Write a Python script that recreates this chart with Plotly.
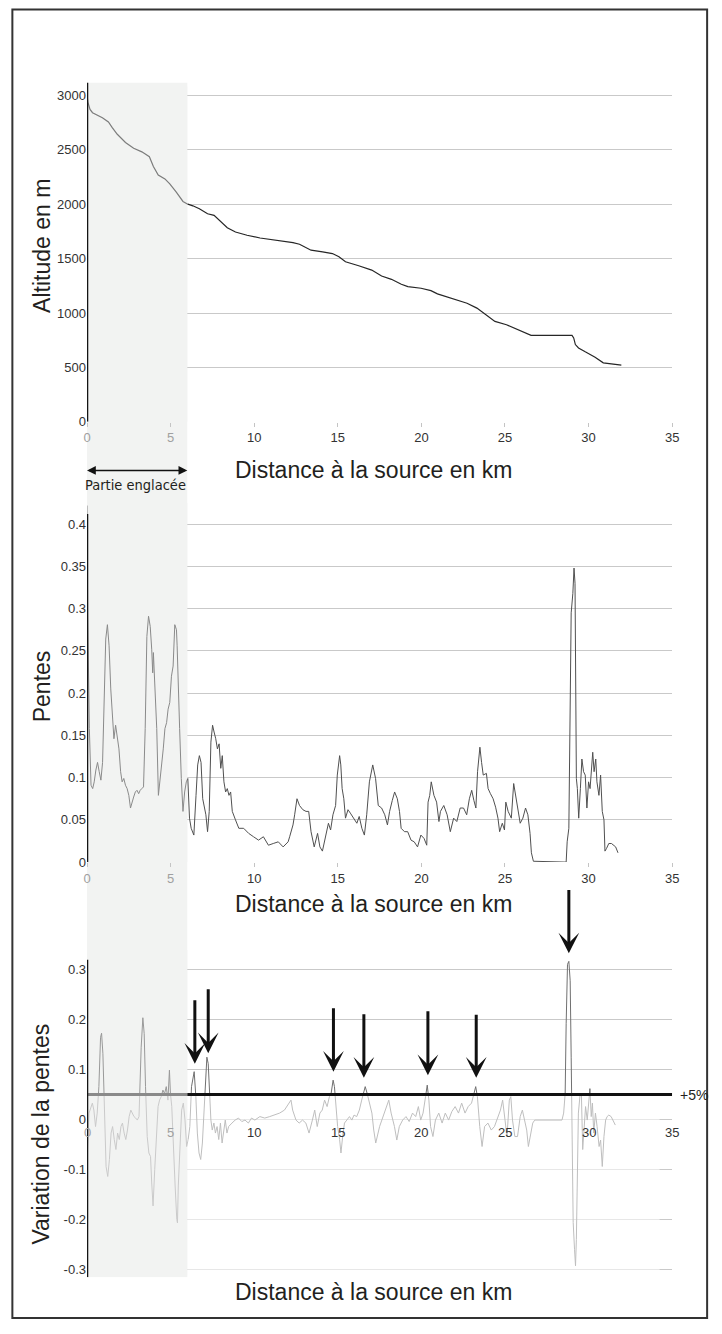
import plotly.graph_objects as go

W, H = 722, 1334

# ---------------- data ----------------
alt_km = [0, 0.05, 0.18, 0.33, 0.92, 1.28, 1.51, 1.81, 2.3, 2.79, 3.28, 3.73, 3.97, 4.26, 4.66,
          4.95, 5.34, 5.74, 6.03, 6.33, 6.72, 7.21, 7.6, 8.0, 8.39, 8.88, 9.57, 10.35, 11.34, 12.32,
          12.71, 13.4, 14.09, 14.68, 15.07, 15.46, 16.25, 17.03, 17.62, 18.21, 18.8, 19.19, 19.98,
          20.57, 20.96, 21.55, 22.14, 22.73, 23.32, 23.71, 24.4, 25.09, 25.87, 26.56, 29.01, 29.11,
          29.21, 29.4, 29.8, 30.39, 30.88, 31.37, 31.96]
altitude = [3010, 2940, 2872, 2842, 2796, 2757, 2705, 2644, 2568, 2516, 2482, 2437, 2348, 2269, 2233,
            2187, 2111, 2026, 2001, 1986, 1959, 1913, 1898, 1837, 1785, 1745, 1715, 1690, 1669, 1648,
            1633, 1578, 1563, 1547, 1517, 1471, 1435, 1395, 1340, 1310, 1264, 1243, 1228, 1206, 1176,
            1145, 1115, 1090, 1045, 999, 923, 892, 841, 795, 795, 771, 710, 679, 643, 594, 542, 533, 521]

pente_km = [0, 0.04, 0.14, 0.24, 0.34, 0.43, 0.53, 0.63, 0.73, 0.83, 0.93, 1.02, 1.12, 1.22, 1.32,
            1.42, 1.51, 1.61, 1.71, 1.81, 1.91, 2.01, 2.1, 2.2, 2.3, 2.4, 2.5, 2.6, 2.69, 2.79, 2.89,
            2.99, 3.09, 3.18, 3.28, 3.38, 3.48, 3.58, 3.68, 3.78, 3.87, 3.93, 3.97, 4.07, 4.17, 4.27,
            4.36, 4.46, 4.56, 4.66, 4.76, 4.85, 4.95, 5.05, 5.15, 5.25, 5.35, 5.39, 5.44, 5.54, 5.64,
            5.74, 5.84, 5.94, 6.03, 6.13, 6.23, 6.39, 6.52, 6.62, 6.72, 6.82, 6.92, 7.02, 7.11, 7.21,
            7.31, 7.41, 7.51, 7.6, 7.7, 7.8, 7.9, 8.0, 8.09, 8.19, 8.29, 8.39, 8.49, 8.59, 8.69, 8.88,
            9.08, 9.37, 9.67, 9.96, 10.26, 10.55, 10.85, 11.14, 11.44, 11.73, 12.03, 12.12,
            12.32, 12.42, 12.56, 12.71, 12.91, 13.1, 13.26, 13.4, 13.59, 13.79, 13.93, 14.08, 14.28,
            14.44, 14.57, 14.71, 14.87, 14.97, 15.11, 15.18, 15.26, 15.36, 15.46, 15.61, 15.75, 15.95,
            16.14, 16.28, 16.44, 16.59, 16.73, 16.89, 17.09, 17.26, 17.42, 17.62, 17.81, 17.97, 18.1,
            18.26, 18.4, 18.56, 18.69, 18.79, 18.99, 19.18, 19.38, 19.57, 19.77, 19.97, 20.16, 20.32,
            20.4, 20.5, 20.59, 20.75, 20.91, 21.05, 21.14, 21.34, 21.54, 21.73, 21.93, 22.12, 22.32,
            22.52, 22.71, 22.87, 23.01, 23.14, 23.26, 23.36, 23.5, 23.6, 23.7, 23.89, 23.99, 24.13,
            24.29, 24.44, 24.58, 24.68, 24.84, 24.97,
            25.05, 25.19, 25.38, 25.52, 25.64, 25.78, 25.91, 26.07, 26.23, 26.37, 26.5, 26.58, 26.7,
            28.66, 28.72, 28.82, 28.88, 28.96, 29.06, 29.13, 29.19, 29.27, 29.33, 29.41, 29.51, 29.6,
            29.7, 29.8, 29.9, 30.0, 30.09, 30.19, 30.25, 30.33, 30.43, 30.5, 30.62, 30.72, 30.82,
            30.92, 30.98, 31.07, 31.21, 31.37, 31.52, 31.62, 31.76]
pente = [0.422, 0.295, 0.158, 0.091, 0.087, 0.095, 0.109, 0.118, 0.107, 0.097, 0.118, 0.177, 0.264,
         0.281, 0.256, 0.205, 0.169, 0.146, 0.162, 0.15, 0.134, 0.107, 0.095, 0.099, 0.091, 0.087,
         0.079, 0.064, 0.069, 0.077, 0.083, 0.085, 0.081, 0.085, 0.087, 0.089, 0.158, 0.267, 0.291,
         0.279, 0.252, 0.224, 0.248, 0.205, 0.158, 0.079, 0.095, 0.118, 0.134, 0.158, 0.165, 0.181,
         0.189, 0.22, 0.232, 0.281, 0.275, 0.256, 0.216, 0.158, 0.099, 0.06, 0.083, 0.095, 0.099,
         0.052, 0.04, 0.032, 0.079, 0.115, 0.126, 0.118, 0.075, 0.064, 0.056, 0.036, 0.06, 0.142,
         0.162, 0.154, 0.146, 0.134, 0.14, 0.111, 0.126, 0.095, 0.083, 0.087, 0.079, 0.083, 0.06,
         0.05, 0.04, 0.04, 0.034, 0.03, 0.026, 0.03, 0.02, 0.022, 0.024, 0.018, 0.024, 0.03,
         0.044, 0.056, 0.075, 0.067, 0.062, 0.06, 0.06, 0.036, 0.018, 0.034, 0.018, 0.013, 0.032,
         0.046, 0.038, 0.056, 0.067, 0.103, 0.126, 0.115, 0.087, 0.075, 0.052, 0.062, 0.058, 0.052,
         0.046, 0.054, 0.04, 0.032, 0.056, 0.095, 0.115, 0.099, 0.067, 0.064, 0.056, 0.044, 0.06,
         0.073, 0.083, 0.075, 0.06, 0.04, 0.036, 0.036, 0.026, 0.024, 0.018, 0.032, 0.028, 0.02,
         0.071, 0.079, 0.095, 0.079, 0.071, 0.048, 0.06, 0.067, 0.056, 0.036, 0.052, 0.048, 0.064,
         0.064, 0.056, 0.075, 0.085, 0.073, 0.064, 0.107, 0.136, 0.118, 0.103, 0.105, 0.087, 0.081,
         0.075, 0.065, 0.052, 0.036, 0.046, 0.038,
         0.071, 0.06, 0.052, 0.093, 0.079, 0.06, 0.046, 0.052, 0.064, 0.056, 0.034, 0.011, 0.001,
         0.0, 0.024, 0.04, 0.197, 0.295, 0.318, 0.348, 0.33, 0.099, 0.087, 0.052, 0.087, 0.122,
         0.107, 0.103, 0.064, 0.095, 0.087, 0.122, 0.13, 0.107, 0.122, 0.095, 0.079, 0.103, 0.06,
         0.05, 0.013, 0.016, 0.022, 0.022, 0.02, 0.018, 0.011]

var_km = [0, 0.02, 0.12, 0.22, 0.32, 0.41, 0.51, 0.61, 0.71, 0.81, 0.87, 0.95, 1.04, 1.14, 1.24,
          1.34, 1.44, 1.53, 1.63, 1.73, 1.83, 1.93, 2.03, 2.12, 2.22, 2.32, 2.42, 2.52, 2.62, 2.71,
          2.81, 2.91, 3.01, 3.11, 3.16, 3.24, 3.34, 3.42, 3.5, 3.6, 3.7, 3.8, 3.87, 3.95, 4.05, 4.15,
          4.25, 4.34, 4.44, 4.54, 4.64, 4.74, 4.84, 4.93, 4.99, 5.07, 5.17, 5.27, 5.37, 5.41, 5.46,
          5.56, 5.66, 5.76, 5.86, 5.96, 6.05, 6.15, 6.25, 6.35, 6.41, 6.51, 6.6, 6.7, 6.8, 6.9, 7.0,
          7.09, 7.17, 7.25, 7.33, 7.41, 7.49, 7.59, 7.68, 7.78, 7.88, 7.98, 8.08, 8.17, 8.27, 8.37,
          8.47, 8.67, 8.86, 9.06, 9.26, 9.45, 9.65, 9.84, 10.04, 10.34, 10.63, 10.93, 11.22, 11.52,
          11.81, 12.11, 12.2, 12.3, 12.5, 12.69, 12.89, 13.09, 13.28, 13.48, 13.62, 13.77, 13.93,
          14.07, 14.21, 14.36, 14.5, 14.6, 14.72, 14.8, 14.9, 14.99, 15.11, 15.19, 15.29, 15.4,
          15.54, 15.7, 15.84, 15.97, 16.13, 16.29, 16.43, 16.56, 16.64, 16.76, 16.92, 17.04, 17.15,
          17.27, 17.5, 17.7, 17.9, 18.05, 18.19, 18.39, 18.53, 18.68, 18.88, 19.08, 19.27, 19.47,
          19.66, 19.82, 19.96, 20.1, 20.25, 20.35, 20.45, 20.55, 20.69, 20.84, 21.04, 21.24, 21.43,
          21.63, 21.82, 22.02, 22.22, 22.41, 22.61, 22.8, 23.0, 23.16, 23.25, 23.35, 23.49, 23.63,
          23.78, 23.98, 24.18, 24.37, 24.57, 24.73, 24.86, 25.0, 25.12, 25.26, 25.35, 25.45, 25.59,
          25.75, 25.91, 26.04, 26.18, 26.3, 26.4, 26.54, 26.66, 26.78, 28.41, 28.51, 28.6, 28.66,
          28.74, 28.82, 28.9, 28.96, 29.02, 29.08, 29.16, 29.22, 29.27, 29.33, 29.39, 29.49, 29.57,
          29.65, 29.73, 29.82, 29.92, 30.02, 30.08, 30.16, 30.23, 30.31, 30.41, 30.51, 30.63, 30.72,
          30.82, 30.92, 31.02, 31.11, 31.21, 31.35, 31.49, 31.6]
variation = [-0.28, -0.067, 0.013, 0.026, 0.033, 0.019, -0.014, 0.013, 0.066, 0.165, 0.173, 0.132,
             -0.001, -0.094, -0.114, -0.08, -0.027, -0.014, -0.04, -0.06, -0.027, -0.04, -0.014,
             -0.007, -0.027, -0.04, -0.021, 0.006, 0.019, 0.013, 0.006, 0.003, -0.001, 0.006, 0.066,
             0.145, 0.204, 0.172, 0.066, -0.034, -0.067, -0.074, -0.127, -0.173, -0.1, -0.04, 0.026,
             0.039, 0.046, 0.059, 0.052, 0.066, 0.039, 0.099, 0.052, 0.026, -0.067, -0.133, -0.2,
             -0.207, -0.133, -0.04, 0.019, 0.033, -0.001, -0.054, -0.04, -0.014, 0.066, 0.092, 0.096,
             0.046, -0.027, -0.067, -0.08, -0.047, 0.019, 0.086, 0.125, 0.112, 0.052, -0.001, -0.021,
             -0.007, -0.027, -0.014, -0.04, -0.007, -0.047, -0.021, -0.001, -0.027, -0.014, -0.007,
             -0.001, 0.003, -0.004, -0.001, -0.007, 0.003, -0.001, 0.006, 0.003, 0.006, 0.009, 0.013,
             0.019, 0.033, 0.039, 0.019, -0.001, -0.007, -0.001, -0.007, -0.027, -0.001, 0.019,
             -0.014, 0.013, 0.019, 0.039, 0.026, 0.046, 0.052, 0.079, 0.066, 0.026, -0.014, -0.04,
             -0.067, -0.034, -0.007, -0.001, 0.006, -0.001, 0.009, 0.006, 0.019, 0.039, 0.059, 0.066,
             0.052, 0.026, 0.013, -0.021, -0.047, -0.014, 0.006, 0.026, 0.039, 0.013, -0.014, -0.041,
             -0.014, -0.001, 0.006, -0.004, 0.013, 0.006, 0.026, -0.001, 0.013, 0.046, 0.069, 0.039,
             -0.014, -0.034, -0.001, 0.013, -0.007, 0.013, -0.001, 0.016, 0.026, 0.013, 0.033, 0.013,
             0.026, 0.033, 0.052, 0.066, 0.046, -0.014, -0.054, -0.014, -0.007, -0.021, -0.014, 0.006,
             0.019, 0.039, -0.007, -0.034, 0.039, 0.046, -0.001, -0.034, -0.034, 0.006, 0.019, -0.007,
             -0.021, -0.054, -0.027, -0.007, -0.001, -0.001, 0.013, 0.052, 0.192, 0.311, 0.317, 0.278,
             0.125, -0.074, -0.206, -0.26, -0.293, -0.24, -0.074, 0.013, 0.049, 0.052, -0.06, -0.021,
             0.026, -0.001, 0.052, 0.062, 0.006, 0.033, -0.027, 0.013, -0.014, -0.054, -0.041, -0.094,
             -0.034, -0.001, 0.006, 0.009, 0.006, -0.004, -0.011]

# peaks flagged by arrows (km, arrow tip value, arrow tail value)
arrow_km = [6.45, 7.25, 14.74, 16.56, 20.39, 23.28, 28.82]
arrow_tip = [0.112, 0.133, 0.096, 0.084, 0.089, 0.084, 0.333]
arrow_top = [0.242, 0.264, 0.226, 0.214, 0.22, 0.213, 0.463]

x_ticks = [0, 5, 10, 15, 20, 25, 30, 35]
alt_ticks = [0, 500, 1000, 1500, 2000, 2500, 3000]
pente_ticks = [0, 0.05, 0.1, 0.15, 0.2, 0.25, 0.3, 0.35, 0.4]
pente_labels = ["0", "0.05", "0.1", "0.15", "0.2", "0.25", "0.3", "0.35", "0.4"]
var_ticks = [-0.3, -0.2, -0.1, 0, 0.1, 0.2, 0.3]
var_labels = ["-0.3", "-0.2", "-0.1", "0", "0.1", "0.2", "0.3"]
glacier_end_km = 6
threshold = 0.05

x_title = "Distance à la source en km"

Y1R = [0, 3120]
Y2R = [0, 0.425]
Y3R = [-0.316, 0.34]
Y3_AXIS_TOP = 0.32

# ---------------- helpers ----------------
def px_x(p):
    return p / W

def px_y(p):
    return 1 - p / H

def split(xs, ys, cut):
    i = next(k for k, v in enumerate(xs) if v >= cut)
    return (xs[:i + 1], ys[:i + 1]), (xs[i:], ys[i:])

FONT = "Liberation Sans, Arial, sans-serif"
TXT = "#231f20"

XDOM = [px_x(84.3), px_x(678.5)]
Y1DOM = [px_y(424.3), px_y(83)]
Y2DOM = [px_y(867.3), px_y(506.05)]
Y3DOM = [px_y(1285), px_y(955.6)]

fig = go.Figure()

(a_in, a_out) = split(alt_km, altitude, glacier_end_km)
fig.add_trace(go.Scatter(x=a_in[0], y=a_in[1], mode="lines", line=dict(color="#7c7c7c", width=1.2),
                         xaxis="x", yaxis="y", hoverinfo="skip"))
fig.add_trace(go.Scatter(x=a_out[0], y=a_out[1], mode="lines", line=dict(color="#262626", width=1.2),
                         xaxis="x", yaxis="y", hoverinfo="skip"))
(p_in, p_out) = split(pente_km, pente, glacier_end_km)
fig.add_trace(go.Scatter(x=p_in[0], y=p_in[1], mode="lines", line=dict(color="#8a8a8a", width=1),
                         xaxis="x2", yaxis="y2", hoverinfo="skip"))
fig.add_trace(go.Scatter(x=p_out[0], y=p_out[1], mode="lines", line=dict(color="#505050", width=1),
                         xaxis="x2", yaxis="y2", hoverinfo="skip"))
(v_in, v_out) = split(var_km, variation, glacier_end_km)
fig.add_trace(go.Scatter(x=v_in[0], y=v_in[1], mode="lines", line=dict(color="#999999", width=1),
                         xaxis="x3", yaxis="y3", hoverinfo="skip"))
fig.add_trace(go.Scatter(x=v_out[0], y=v_out[1], mode="lines", line=dict(color="#707070", width=1),
                         xaxis="x3", yaxis="y3", hoverinfo="skip"))

SHADE = "#f2f3f2"
grey_tick = lambda v: (f'<span style="color:#a0a0a0">{v}</span>' if v <= 5 else str(v))

xcommon = dict(domain=XDOM, range=[0, 35], showgrid=False, zeroline=False, showline=False,
               tickvals=x_ticks, ticktext=[grey_tick(v) for v in x_ticks],
               ticks="outside", ticklen=4, tickcolor="#c4c4c4", tickwidth=1,
               tickfont=dict(family=FONT, size=13, color="#333333"), fixedrange=True)
ycommon = dict(showgrid=True, gridcolor="#c9c9c9", gridwidth=1, zeroline=False, showline=False,
               ticks="", tickfont=dict(family=FONT, size=13, color="#333333"), fixedrange=True)

fig.update_layout(
    width=W, height=H, margin=dict(l=0, r=0, t=0, b=0), autosize=False,
    paper_bgcolor="white", plot_bgcolor="rgba(0,0,0,0)", showlegend=False,
    xaxis=dict(**xcommon, anchor="y"),
    yaxis=dict(**ycommon, domain=Y1DOM, range=Y1R, tickvals=alt_ticks, anchor="x"),
    xaxis2=dict(**xcommon, anchor="y2"),
    yaxis2=dict(**ycommon, domain=Y2DOM, range=Y2R, tickvals=pente_ticks,
                ticktext=pente_labels, anchor="x2"),
    xaxis3=dict(domain=XDOM, range=[0, 35], showgrid=False, zeroline=False, showline=False,
                showticklabels=False, ticks="", anchor="y3", fixedrange=True),
    yaxis3=dict(**ycommon, domain=Y3DOM, range=Y3R, tickvals=var_ticks,
                ticktext=var_labels, anchor="x3"),
)

shapes = []
shapes.append(dict(type="rect", xref="paper", yref="paper", x0=px_x(84.3), x1=px_x(186.1),
                   y0=px_y(1283), y1=px_y(87), fillcolor=SHADE, line=dict(width=0), layer="below"))
for xa, ya, rg in [("x", "y", Y1R), ("x2", "y2", Y2R), ("x3", "y3", Y3R)]:
    shapes.append(dict(type="rect", xref=xa, yref=ya, x0=0, x1=glacier_end_km,
                       y0=rg[0], y1=rg[1], fillcolor=SHADE, line=dict(width=0), layer="between"))
shapes.append(dict(type="rect", xref="x3", yref="y3", x0=0, x1=glacier_end_km, y0=Y3R[0], y1=threshold,
                   fillcolor="rgba(242,243,242,0.55)", line=dict(width=0), layer="above"))
shapes.append(dict(type="rect", xref="x3", yref="y3", x0=glacier_end_km, x1=34.25, y0=Y3R[0], y1=threshold,
                   fillcolor="rgba(255,255,255,0.55)", line=dict(width=0), layer="above"))
shapes.append(dict(type="line", xref="x3", yref="y3", x0=0, x1=glacier_end_km, y0=threshold, y1=threshold,
                   line=dict(color="#8a8a8a", width=3), layer="above"))
shapes.append(dict(type="line", xref="x3", yref="y3", x0=glacier_end_km, x1=35, y0=threshold, y1=threshold,
                   line=dict(color="#111111", width=3), layer="above"))
shapes.append(dict(type="line", xref="x", yref="y", x0=0, x1=0, y0=0, y1=Y1R[1],
                   line=dict(color="#111111", width=2.5), layer="above"))
shapes.append(dict(type="line", xref="x2", yref="y2", x0=0, x1=0, y0=0, y1=0.412,
                   line=dict(color="#111111", width=2.5), layer="above"))
shapes.append(dict(type="line", xref="x3", yref="y3", x0=0, x1=0, y0=Y3R[0], y1=Y3_AXIS_TOP,
                   line=dict(color="#111111", width=2.5), layer="above"))
shapes.append(dict(type="rect", xref="paper", yref="paper", x0=px_x(8.5), x1=px_x(714),
                   y0=px_y(1326), y1=px_y(9.5), line=dict(color="#333333", width=2),
                   fillcolor="rgba(0,0,0,0)", layer="above"))
fig.update_layout(shapes=shapes)

ann = []
def title(text, x, y, angle=0):
    ann.append(dict(text=text, xref="paper", yref="paper", x=px_x(x), y=px_y(y), showarrow=False,
                    xanchor="center", yanchor="middle", textangle=angle,
                    font=dict(family=FONT, size=23, color=TXT)))

title("Altitude en m", 38, 247, -90)
title("Pentes", 38, 690, -90)
title("Variation de la pentes", 38, 1141, -90)
title(x_title, 375, 473)
title(x_title, 375, 909)
title(x_title, 375, 1300)

for v in x_ticks:
    ann.append(dict(text=str(v), xref="x3", yref="y3", x=v, y=0, showarrow=False,
                    xanchor="center", yanchor="top", yshift=-3,
                    font=dict(family=FONT, size=13, color="#a0a0a0" if v <= 5 else "#333333")))

ann.append(dict(text="+5%", xref="x3", yref="y3", x=35, y=threshold, showarrow=False,
                xanchor="left", yanchor="middle", xshift=6,
                font=dict(family=FONT, size=14, color=TXT)))

ann.append(dict(text="", xref="x", yref="paper", x=glacier_end_km, y=px_y(473.3), showarrow=True,
                ax=-101.8, ay=0, axref="pixel", ayref="pixel", arrowside="end+start",
                arrowhead=2, startarrowhead=2, arrowsize=1.1, startarrowsize=1.1, arrowwidth=1.6,
                arrowcolor="#111111", standoff=0, startstandoff=0))
ann.append(dict(text="Partie englacée", xref="paper", yref="paper", x=px_x(134), y=px_y(488),
                showarrow=False, xanchor="center", yanchor="middle",
                font=dict(family="Liberation Sans Narrow, DejaVu Sans Condensed, Liberation Sans, sans-serif",
                          size=14.5, color=TXT)))

for k, t, top in zip(arrow_km, arrow_tip, arrow_top):
    ann.append(dict(text="", xref="x3", yref="y3", x=k, y=t, ax=k, ay=top, axref="x3", ayref="y3",
                    showarrow=True, arrowhead=3, arrowsize=1.15, arrowwidth=3,
                    arrowcolor="#111111", standoff=0))

fig.update_layout(annotations=ann)

fig.write_html("out.html", config={"displayModeBar": False, "staticPlot": True},
               post_script="document.body.style.margin='0';document.body.style.overflow='hidden';")
